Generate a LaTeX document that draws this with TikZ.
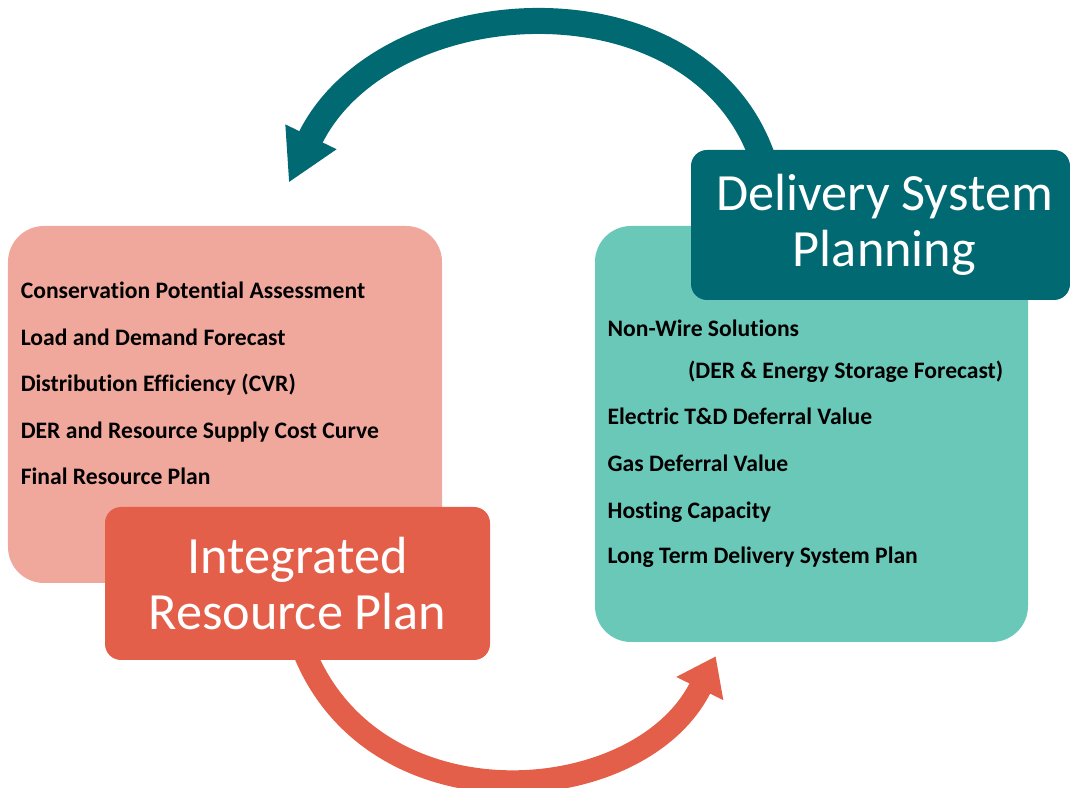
\documentclass[tikz,border=0pt]{standalone}
\usepackage{fontspec}
\setmainfont[Ligatures=NoCommon]{Carlito}
\usetikzlibrary{calc,positioning,arrows.meta,shapes}
\pgfdeclarelayer{back}
\pgfsetlayers{back,main}

\definecolor{irplight}{RGB}{240,167,156}
\definecolor{irpdark}{RGB}{228,95,74}
\definecolor{dsplight}{RGB}{106,200,185}
\definecolor{dspdark}{RGB}{0,105,114}

\tikzset{
  panel/.style={rectangle, rounded corners=0.9cm, inner sep=0pt},
  banner/.style={rectangle, rounded corners=0.4cm, inner sep=0pt, text=white,
    align=center, font=\fontsize{37.2}{39.5}\selectfont},
  item/.style={anchor=base west, inner sep=0pt, font=\bfseries\fontsize{16.8}{18}\selectfont},
  cycle arrow/.style={line cap=butt}
}

\begin{document}
\begin{tikzpicture}
  \useasboundingbox (0,0) rectangle (26.75,-19.7);

  \node [panel, fill=irplight, minimum width=10.85cm, minimum height=8.925cm] at(5.625,-10.1125) (irp_box) {};
  \node [panel, fill=dsplight, minimum width=10.825cm, minimum height=10.4cm] at(20.2875,-10.85) (dsp_box) {};

  \node [banner, fill=irpdark, minimum width=9.625cm, minimum height=3.825cm] at(7.4375,-14.5875) (irp) {Integrated\\Resource Plan};
  \node [banner, fill=dspdark, minimum width=9.475cm, minimum height=3.75cm] at(22.0125,-5.625) (dsp) {\hspace*{0.2cm}Delivery System\\\hspace*{0.2cm}Planning};

  \foreach \t [count=\i from 0] in {Conservation Potential Assessment, Load and Demand Forecast,
    Distribution Efficiency (CVR), DER and Resource Supply Cost Curve, Final Resource Plan}
  {
    \node [item] at($(irp_box.north west)+(0.32,-1.83-1.1625*\i)$) (irp_item_\i) {\t};
  }

  \foreach \dx/\dy/\t [count=\i from 0] in {0.315/2.77/Non-Wire Solutions,
    2.325/3.83/(DER \& Energy Storage Forecast), 0.315/4.975/Electric T\&D Deferral Value,
    0.315/6.14/Gas Deferral Value, 0.315/7.31/Hosting Capacity,
    0.315/8.45/Long Term Delivery System Plan}
  {
    \node [item] at($(dsp_box.north west)+(\dx,-\dy)$) (dsp_item_\i) {\t};
  }

  \begin{pgfonlayer}{back}
    \coordinate (dsp_out) at($(dsp.north west)+(1.85,-0.375)$);
    \coordinate (irp_in) at($(irp_box.north west)+(7.025,1.075)$);
    \draw[cycle arrow, line width=0.65cm, draw=dspdark, -{Triangle[length=1.275cm,width=1.325cm]}]
      (dsp_out) .. controls +(-1.5,4.875) and +(2.4,4.95) .. (irp_in);

    \coordinate (irp_out) at($(irp.south west)+(4.925,0.375)$);
    \coordinate (dsp_in) at($(dsp_box.south west)+(3.025,-0.35)$);
    \draw[cycle arrow, line width=0.575cm, draw=irpdark, -{Triangle[length=0.9cm,width=1.25cm]}]
      (irp_out) .. controls +(1.7,-4.625) and +(-1.9,-3.85) .. (dsp_in);
  \end{pgfonlayer}
\end{tikzpicture}
\end{document}
